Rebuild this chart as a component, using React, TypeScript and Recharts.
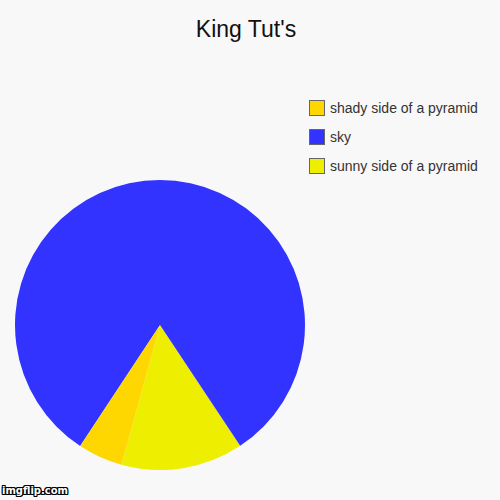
import React from "react";
import { PieChart, Pie, Cell, Legend } from "recharts";

const categories = ["sunny side of a pyramid", "sky", "shady side of a pyramid"];
const values = [13.6, 81.4, 5.0];
const colors = ["#EEEE00", "#3333FF", "#FFD700"];
const title = "King Tut's";

const data = categories.map((name, i) => ({ name, value: values[i] }));

const FONT = "'Liberation Sans', Arial, sans-serif";

const LegendContent = () => {
  const order = [...categories.keys()].reverse();
  return (
    <div style={{ position: "relative", width: 200, height: 100 }}>
      {order.map((i, row) => (
        <div
          key={categories[i]}
          style={{
            position: "absolute",
            left: 0,
            top: row * 29,
            height: 16,
            display: "flex",
            alignItems: "center",
            whiteSpace: "nowrap",
          }}
        >
          <div
            style={{
              width: 14,
              height: 14,
              background: colors[i],
              border: "1px solid #666",
            }}
          />
          <span
            style={{
              marginLeft: 5,
              fontFamily: FONT,
              fontSize: 14,
              color: "#333",
              lineHeight: "16px",
            }}
          >
            {categories[i]}
          </span>
        </div>
      ))}
    </div>
  );
};

export default function App() {
  return (
    <div
      style={{
        position: "fixed",
        left: 0,
        top: 0,
        width: 500,
        height: 500,
        background: "#F8F8F8",
        overflow: "hidden",
      }}
    >
      <div
        style={{
          position: "absolute",
          left: 0,
          width: 492,
          top: 14,
          textAlign: "center",
          fontFamily: FONT,
          fontSize: 23,
          color: "#111",
          lineHeight: "30px",
        }}
      >
        {title}
      </div>
      <PieChart width={500} height={500} margin={{ top: 0, right: 0, bottom: 0, left: 0 }}>
        <Pie
          data={data}
          dataKey="value"
          nameKey="name"
          cx={160}
          cy={325}
          outerRadius={145}
          startAngle={-105.4}
          endAngle={254.6}
          stroke="none"
          isAnimationActive={false}
        >
          {data.map((d, i) => (
            <Cell key={d.name} fill={colors[i]} />
          ))}
        </Pie>
        <Legend
          layout="vertical"
          align="right"
          verticalAlign="top"
          content={<LegendContent />}
          wrapperStyle={{ position: "absolute", left: 309, top: 100, width: 200, height: 100 }}
        />
      </PieChart>
      <div
        style={{
          position: "absolute",
          left: 2,
          top: 485,
          fontFamily: "'DejaVu Sans', sans-serif",
          fontWeight: "bold",
          fontSize: 10,
          color: "#fff",
          textShadow:
            "1px 0 0 #000, -1px 0 0 #000, 0 1px 0 #000, 0 -1px 0 #000, 1px 1px 0 #000, -1px -1px 0 #000, 1px -1px 0 #000, -1px 1px 0 #000",
        }}
      >
        imgflip.com
      </div>
    </div>
  );
}
